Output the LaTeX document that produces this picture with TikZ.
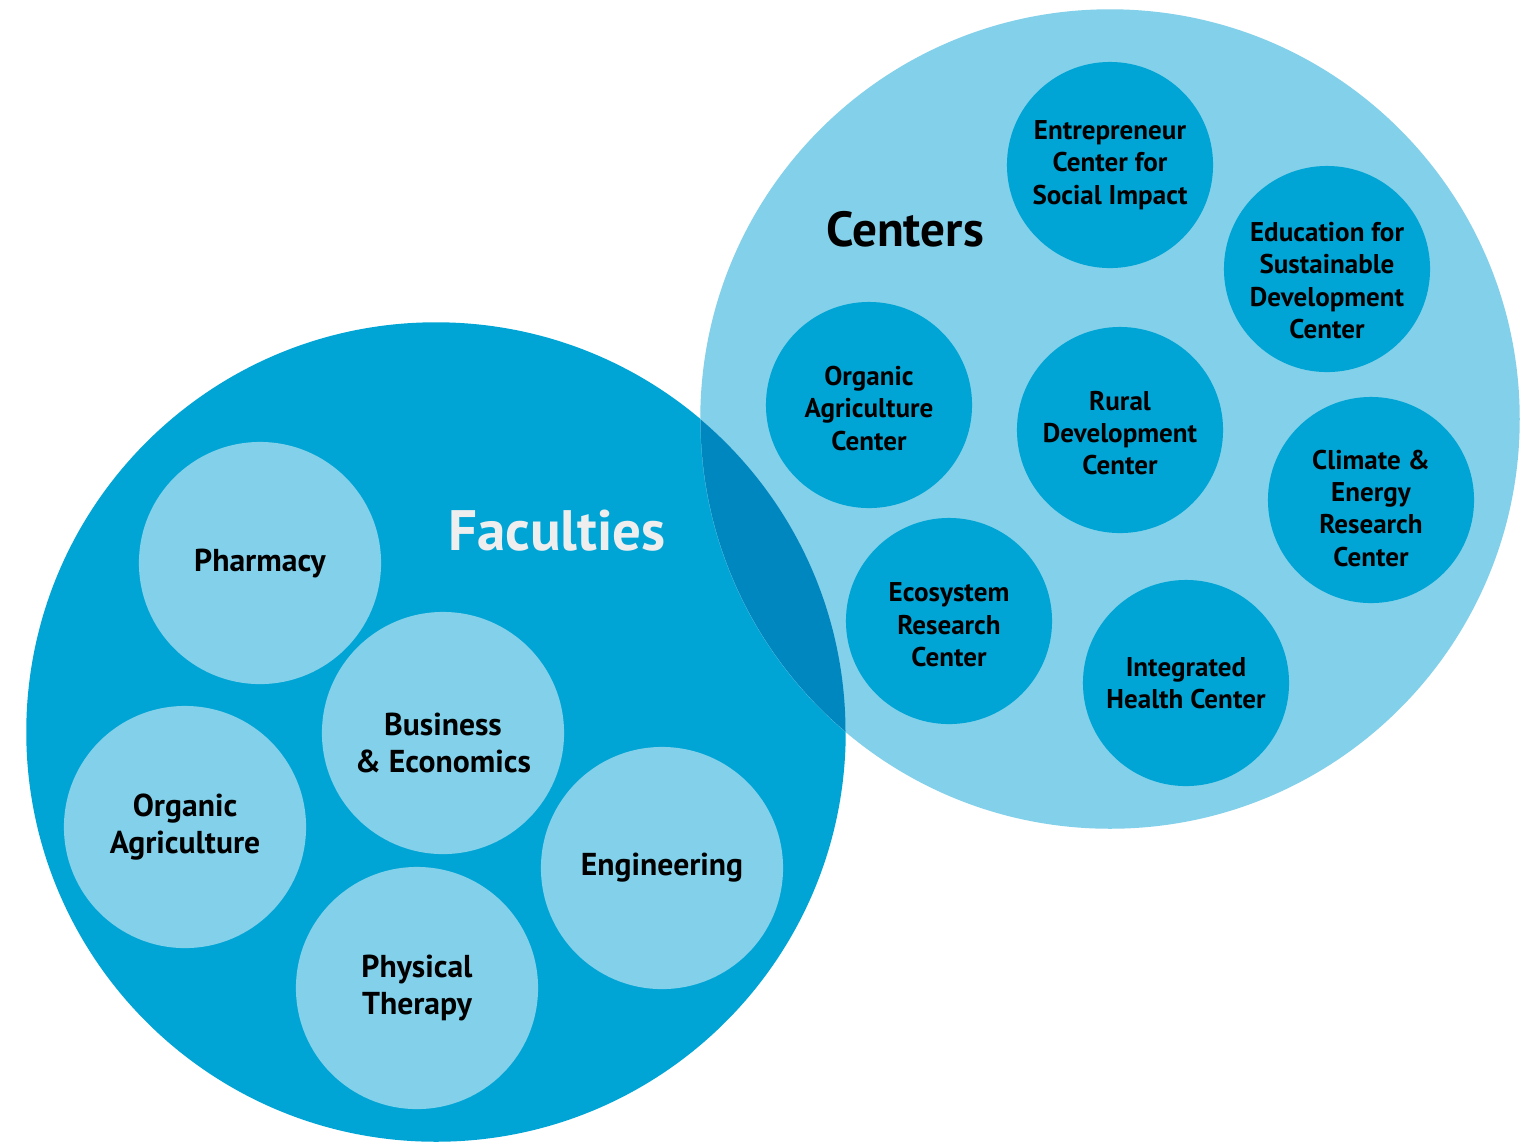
\documentclass[tikz,border=0pt]{standalone}
\usepackage{fontspec}
\setmainfont{PT Sans}
\usetikzlibrary{positioning}
\definecolor{mDeep}{HTML}{00A5D6}
\definecolor{mPale}{HTML}{82D0E9}
\definecolor{mDark}{HTML}{0087C0}
\definecolor{mSnow}{HTML}{EEEEEE}
\begin{document}
\begin{tikzpicture}[x=0.01cm, y=-0.01cm,
    big/.style={circle, minimum size=8.19cm, inner sep=0pt},
    fac/.style={circle, fill=mPale, minimum size=2.42cm, inner sep=0pt},
    ctr/.style={circle, fill=mDeep, minimum size=2.06cm, inner sep=0pt},
    factxt/.style={align=center, inner sep=0pt, font=\bfseries\fontsize{9}{10.6}\selectfont},
    ctrtxt/.style={align=center, inner sep=0pt, font=\bfseries\fontsize{7.7}{9.2}\selectfont},
    title/.style={font=\bfseries\fontsize{#1}{#1}\selectfont}]
  \useasboundingbox (0,0) rectangle (1524,1141);
  % the two sets
  \node[big, fill=mDeep] (facs) at (436,732) {};
  \node[big, fill=mPale] (ctrs) at (1110,419) {};
  \begin{scope}
    \clip (facs.center) circle[radius=409.5];
    \fill[mDark] (ctrs.center) circle[radius=409.5];
  \end{scope}
  % faculties
  \foreach \n/\x/\y/\d/\t in {pharm/260/563/0/{Pharmacy},
      busi/443/733/-2.8/{Business\\\& Economics},
      orgag/185/827/0/{Organic\\Agriculture},
      phys/417/988/0/{Physical\\Therapy},
      engi/662/868/0/{Engineering}} {
    \node[fac] (\n) at (\x,\y) {};
    \node[factxt] at ([yshift=\d pt]\n.center) {\t};
  }
  \node[title=16.2, text=mSnow] (facl) at (557,531) {Faculties};
  % centers
  \foreach \n/\x/\y/\d/\t in {entre/1110/165/0/{Entrepreneur\\Center for\\Social Impact},
      edu/1327/269/-3.3/{Education for\\Sustainable\\Development\\Center},
      orgc/869/405/-0.9/{Organic\\Agriculture\\Center},
      rural/1120/430/-0.9/{Rural\\Development\\Center},
      clim/1371/500/-2.3/{Climate \&\\Energy\\Research\\Center},
      eco/949/621/-1.1/{Ecosystem\\Research\\Center},
      health/1186/683/0/{Integrated\\Health Center}} {
    \node[ctr] (\n) at (\x,\y) {};
    \node[ctrtxt] at ([yshift=\d pt]\n.center) {\t};
  }
  \node[title=14] (ctrl) at (905,229) {Centers};
\end{tikzpicture}
\end{document}
